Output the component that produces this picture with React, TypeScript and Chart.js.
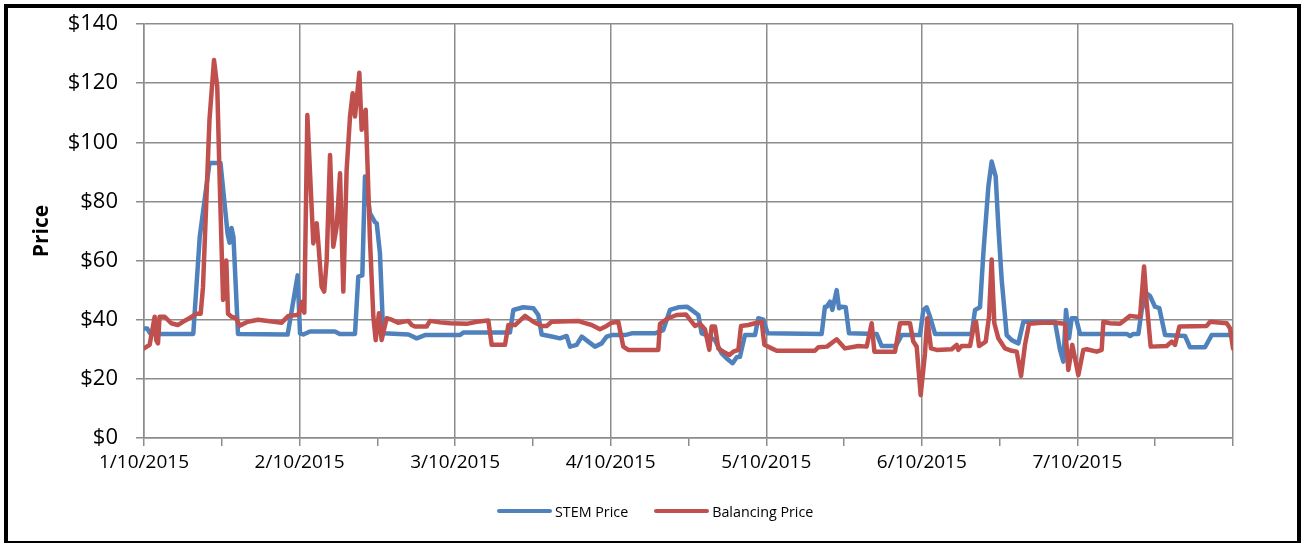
import React, { useEffect, useRef } from 'react';
import { Chart, registerables } from 'chart.js';

Chart.register(...registerables);

// x values are hours from the start of 1/10/2015 (half-hourly trading intervals)
const dateLabels = ['1/10/2015', '2/10/2015', '3/10/2015', '4/10/2015', '5/10/2015', '6/10/2015', '7/10/2015'];
const seriesNames = ['STEM Price', 'Balancing Price'];
const seriesColors = ['#4F81BD', '#C0504D'];

const stemHours = [
  0, 0.5, 1.0, 7.6, 8.6, 10.1, 11.8, 12.9, 13.2, 13.5, 13.8, 14.5,
  22.16, 22.78, 23.7, 24.07, 24.58, 25.6, 29.46, 30.2, 32.55, 33.06, 33.68, 34.09, 34.86, 35.63, 35.9, 36.4, 36.9,
  40.8, 42.07, 43.35, 48.75, 49.27, 56.46, 56.98, 58.5, 60.06, 60.83, 61.35,
  62.89, 64.17, 65.2, 65.72, 66.74, 67.52, 68.54, 69.57, 70.6, 71.37, 72.14, 74.2, 75.23, 78.83, 80.1, 81.14, 82.43, 83.76,
  84.49, 85.52, 86.03, 86.8, 88.09, 89.12, 89.89, 90.81, 91.43, 91.94, 92.71, 94.26, 94.77, 95.54, 96.21, 104.54, 105.05,
  105.32, 105.83, 106.19, 106.86, 107.22, 107.63, 108.25, 108.76, 113.03, 113.8, 116.0, 116.88, 119.71, 120.23, 120.74, 121.26, 122.03, 126.96,
  127.69, 128.2, 128.97, 129.49, 130.26, 130.77, 131.39, 131.8, 132.32, 133.09, 133.86, 134.89, 135.66, 140.54, 141.31, 141.83, 142.24, 142.7, 143.11, 143.78, 144.4,
  151.6, 152.12, 152.63, 153.4, 153.92, 154.69, 155.2, 155.97, 156.64, 157.52, 160.6, 161.37, 163.68, 164.71, 168,
];
const stemPrices = [
  37, 37, 35.2, 35.2, 68, 93, 93, 69, 66, 71, 68, 35.2,
  35, 43, 55, 35.4, 35, 36, 36, 35.2, 35.2, 54.6, 55, 88.4, 76, 73, 72.6, 62.5, 35.4,
  35, 33.7, 34.8, 34.8, 35.7, 35.7, 43.3, 44.2, 43.9, 41.6, 35,
  34.3, 33.7, 34.5, 30.9, 31.5, 34.3, 32.6, 30.9, 32, 34.3, 34.8, 34.8, 35.4, 35.4, 36.5, 43.3, 44.2, 44.4,
  43.3, 41.6, 35.4, 34.8, 33.1, 28.6, 26.9, 25.3, 27.3, 27.5, 34.8, 34.8, 40.5, 40, 35.4, 35.2, 44.4,
  44.4, 46.1, 43.3, 50, 43.9, 44.4, 44.2, 35.4, 35.2, 31.1, 31.1, 34.8, 34.8, 43.3, 44.2, 41, 35.2, 35.2,
  35.2, 43.3, 44.2, 62.5, 85, 93.5, 88.4, 71.5, 53.4, 34.8, 33.1, 32, 39.3, 39.3, 29.8, 25.8, 43.3, 33.7, 40.5, 40.5, 35.2,
  35.2, 34.5, 35.2, 35.2, 43.3, 48.9, 48, 44.4, 43.9, 34.8, 34.5, 30.7, 30.7, 34.8, 34.8,
];

const balancingHours = [
  0, 0.87, 1.65, 1.9, 2.16, 2.4, 3.2, 4.2, 5.2, 6.0, 7.0, 8.07, 8.74, 9.1, 10.1, 10.8, 11.3, 11.7, 12.2, 12.7, 12.96, 13.5, 14.2, 14.75, 16.0, 17.6,
  21.24, 22.27, 23.55, 23.91, 24.32, 24.73, 25.2, 26.12, 26.64, 26.9, 27.4, 27.8, 28.18, 28.7, 29.2, 29.72, 30.24, 30.75, 31.26, 31.78, 32.19, 32.55,
  33.22, 33.58, 34.2, 34.86, 35.38, 35.74, 36.25, 36.66, 37.43, 38.2, 39.2, 40.77, 41.3,
  41.8, 43.6, 44.12, 45.67, 47.2, 49.78, 51.32, 53.12, 53.64, 55.69, 56.21, 57.24, 58.78, 60.06, 61.35, 62.12,
  62.89, 67, 67.77, 69.06, 70.34, 71.37, 72.14, 73.17, 73.94, 74.71, 79.34, 79.6, 80.88, 82.17, 83.6,
  84.23, 85.0, 85.77, 86.54, 87.21, 87.57, 88.09, 88.6, 89.37, 90.3, 90.91, 91.69, 92.1, 93.23, 94.26, 95.29, 95.7, 96.83, 97.6, 103.5, 104.03, 105.36,
  106.86, 108.14, 110.2, 111.49, 112.26, 112.67, 115.86, 116.63, 118.17, 118.68, 119.2, 119.82, 120.48, 120.84, 121.41, 122.28, 124.6, 125.37, 125.62, 126.14,
  127.43, 128.1, 128.36, 128.82, 129.85, 130.36, 130.77, 131.18, 131.8, 132.83, 133.86, 134.63, 135.3, 135.91, 136.53, 138.49, 140.54, 142.08, 142.6, 143.21, 144.14, 144.91, 145.43, 146.97, 147.74,
  148.0, 149.03, 150.57, 152.12, 153.15, 153.66, 154.28, 154.69, 155.3, 157.77, 158.54, 159.06, 159.73, 163.94, 164.45, 167.03, 167.54, 168,
];
const balancingPrices = [
  30.3, 31.5, 41, 33, 32, 41, 41, 38.8, 38.2, 39.3, 40.5, 42, 42, 51, 107.6, 127.8, 118.8, 85, 46.7, 60, 42, 41, 40.5, 38, 39.3, 40,
  39, 41.3, 41.6, 42, 46, 42.4, 109.2, 65.8, 72.6, 65.8, 51.2, 49.5, 60, 95.7, 64.7, 71.5, 89.5, 49.5, 90.6, 108.7, 116.6, 108.7,
  123.5, 104.2, 111, 67, 41, 33.1, 42.2, 33.1, 40.5, 40, 39, 39.6, 38.2,
  37.7, 37.7, 39.6, 39.1, 38.8, 38.6, 39.3, 39.7, 31.5, 31.5, 38.2, 38.2, 41.3, 39.3, 37.9, 37.9,
  39.3, 39.6, 39, 38.2, 36.8, 37.9, 39, 39.3, 30.9, 29.8, 29.8, 38.6, 40.5, 41.6, 41.8,
  40, 37.9, 38.6, 36.8, 29.8, 37.7, 37.7, 30.3, 29.2, 28.1, 29.2, 29.8, 37.9, 38.2, 38.8, 39.3, 31.5, 30.3, 29.5, 29.5, 30.7, 30.9,
  33.4, 30.3, 31.1, 30.9, 38.8, 29.2, 29.2, 38.8, 38.8, 32.6, 30.9, 14.5, 28.6, 40.5, 30.3, 29.8, 30, 31.5, 29.8, 31.1,
  31.1, 38.8, 39.3, 31.1, 32.6, 41, 60.4, 38.8, 33.7, 30.3, 29.5, 29.2, 21, 31.5, 38.6, 39, 39, 38.6, 23, 31.5, 21.3, 29.8, 30, 29.2, 29.8,
  39.3, 38.8, 38.6, 41.3, 41, 41, 58, 45.5, 30.9, 31.1, 32.6, 31.5, 37.7, 37.9, 39.3, 38.8, 37.1, 30.3,
];

const FONT = "'Open Sans', 'Noto Sans', sans-serif";
const GRID = '#8c8c8c';

function toPoints(xs: number[], ys: number[]) {
  return xs.map((x, i) => ({ x, y: ys[i] }));
}

export default function App() {
  const canvasRef = useRef<HTMLCanvasElement | null>(null);

  useEffect(() => {
    const canvas = canvasRef.current;
    if (!canvas) return;
    const common = {
      borderWidth: 4.5,
      pointRadius: 0,
      pointHoverRadius: 0,
      tension: 0,
      borderJoinStyle: 'round' as const,
      borderCapStyle: 'round' as const,
      fill: false,
    };
    const chart = new Chart(canvas, {
      type: 'line',
      data: {
        datasets: [
          {
            ...common,
            label: seriesNames[0],
            data: toPoints(stemHours, stemPrices),
            borderColor: seriesColors[0],
            backgroundColor: seriesColors[0],
            order: 1,
          },
          {
            ...common,
            label: seriesNames[1],
            data: toPoints(balancingHours, balancingPrices),
            borderColor: seriesColors[1],
            backgroundColor: seriesColors[1],
            order: 0,
          },
        ],
      },
      options: {
        responsive: false,
        animation: false,
        events: [],
        layout: { padding: { top: 24, right: 68, bottom: 0, left: 0 } },
        plugins: {
          legend: { display: false },
          tooltip: { enabled: false },
        },
        scales: {
          x: {
            type: 'linear',
            min: 0,
            max: 168,
            afterFit: (s: any) => {
              s.height = 105;
              s.paddingLeft = 0;
              s.paddingRight = 0;
            },
            ticks: {
              stepSize: 12,
              autoSkip: false,
              maxRotation: 0,
              minRotation: 0,
              color: '#000',
              padding: 5,
              font: { family: FONT, size: 19 },
              callback: (v: any) => {
                const n = Number(v);
                return n % 24 === 0 ? dateLabels[n / 24] ?? '' : '';
              },
            },
            grid: {
              color: (ctx: any) =>
                ctx.tick && ctx.tick.value % 24 !== 0 ? 'rgba(0,0,0,0)' : GRID,
              tickColor: GRID,
              tickLength: 8,
              lineWidth: 1.5,
            },
            border: { color: GRID, width: 1.5 },
          },
          y: {
            min: 0,
            max: 140,
            afterFit: (s: any) => {
              s.width = 144;
              s.paddingTop = 0;
              s.paddingBottom = 0;
            },
            ticks: {
              stepSize: 20,
              padding: 18,
              color: '#000',
              font: { family: FONT, size: 22 },
              callback: (v: any) => '$' + v,
            },
            grid: { color: GRID, tickColor: GRID, lineWidth: 1.5, tickLength: 8 },
            border: { color: GRID, width: 1.5 },
            title: {
              display: true,
              text: 'Price',
              color: '#000',
              font: { family: FONT, size: 21, weight: 'bold' },
              padding: { top: 29, bottom: 0 },
            },
          },
        },
      },
    } as any);
    return () => chart.destroy();
  }, []);

  const legendItem = (i: number, extra: React.CSSProperties) => (
    <div style={{ display: 'flex', alignItems: 'center', ...extra }}>
      <span
        style={{
          display: 'inline-block',
          width: 55,
          height: 4,
          borderRadius: 2,
          background: seriesColors[i],
          marginRight: 3,
        }}
      />
      <span>{seriesNames[i]}</span>
    </div>
  );

  return (
    <div
      style={{
        position: 'fixed',
        left: 0,
        top: 0,
        width: 1301,
        height: 543,
        overflow: 'hidden',
        background: '#fff',
      }}
    >
      <canvas
        ref={canvasRef}
        width={1301}
        height={543}
        style={{ position: 'absolute', left: 0, top: 0, width: 1301, height: 543 }}
      />
      <div
        style={{
          position: 'absolute',
          left: 497,
          top: 501,
          height: 20,
          display: 'flex',
          alignItems: 'center',
          fontFamily: FONT,
          fontSize: 14.3,
          color: '#000',
          whiteSpace: 'nowrap',
        }}
      >
        {legendItem(0, {})}
        {legendItem(1, { marginLeft: 26 })}
      </div>
      <div
        style={{
          position: 'absolute',
          left: 4,
          top: 4,
          width: 1297,
          height: 541,
          boxSizing: 'border-box',
          border: '4px solid #000',
          pointerEvents: 'none',
        }}
      />
    </div>
  );
}
